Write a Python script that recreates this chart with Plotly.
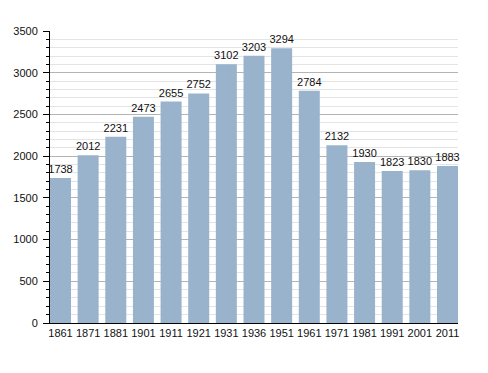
import plotly.graph_objects as go

years = ["1861", "1871", "1881", "1901", "1911", "1921", "1931", "1936",
         "1951", "1961", "1971", "1981", "1991", "2001", "2011"]
population = [1738, 2012, 2231, 2473, 2655, 2752, 3102, 3203,
              3294, 2784, 2132, 1930, 1823, 1830, 1883]
y_ticks = [0, 500, 1000, 1500, 2000, 2500, 3000, 3500]

bargap = 0.24
half = (1 - bargap) / 2

fig = go.Figure(go.Bar(
    x=years, y=population,
    marker=dict(color="#99b3cd", line=dict(width=0)),
    text=[str(v) for v in population],
    textposition="outside",
    constraintext="none",
    textfont=dict(family="Liberation Sans, Arial", size=11, color="#111111"),
    cliponaxis=False,
))

fig.update_layout(
    width=480, height=365,
    margin=dict(l=42, r=30, t=23, b=50),
    paper_bgcolor="white", plot_bgcolor="white",
    bargap=bargap,
    showlegend=False,
    font=dict(family="Liberation Sans, Arial", size=11, color="#111111"),
)
fig.update_xaxes(
    type="category",
    range=[-half, len(years) - 1 + half],
    automargin=False,
    showline=True, linecolor="#000000", linewidth=1,
    showgrid=False, ticks="",
    tickfont=dict(size=11),
)
fig.update_yaxes(
    range=[0, 3500],
    tickvals=y_ticks,
    automargin=False,
    showline=True, linecolor="#000000", linewidth=1,
    showgrid=True, gridcolor="#b4b4b4", gridwidth=1,
    ticks="outside", ticklen=6, tickcolor="#000000",
    ticklabelstandoff=3,
    tickfont=dict(size=11),
    zeroline=False,
    minor=dict(dtick=100, showgrid=True, gridcolor="#e4e4e4", gridwidth=1,
               ticks="outside", ticklen=3, tickcolor="#000000"),
)

fig.write_html("out.html")
